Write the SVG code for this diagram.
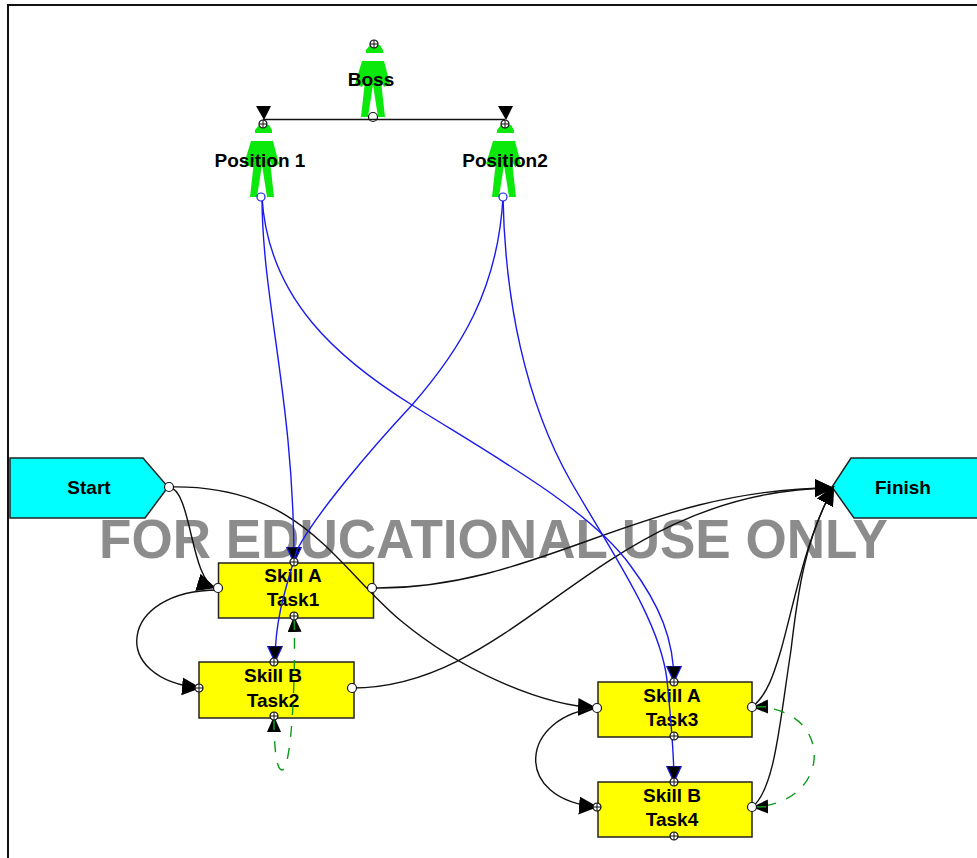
<svg xmlns="http://www.w3.org/2000/svg" width="977" height="858" viewBox="0 0 977 858">
<style>
text{font-family:"Liberation Sans",Arial,sans-serif;font-weight:bold;font-size:19px;fill:#000;text-anchor:middle}
.wm{font-size:56px;fill:#8c8c8c;text-anchor:start}
.box{fill:#ff0;stroke:#222;stroke-width:1.5}
.term{fill:#0ff;stroke:#222;stroke-width:1.5}
.c{fill:none;stroke:#111;stroke-width:1.4}
.b{fill:none;stroke:#1a1aee;stroke-width:1.4}
.g{fill:none;stroke:#0a9a1a;stroke-width:1.4;stroke-dasharray:11 11}
.p{fill:#fff;stroke:#111;stroke-width:1.2}
.x{fill:none;stroke:#111;stroke-width:1}
.pb{fill:#fff;stroke:#1a1aee;stroke-width:1.2}
</style>
<defs>
<marker id="ak" markerUnits="userSpaceOnUse" markerWidth="22" markerHeight="20" refX="19" refY="9" orient="auto"><path d="M0,0L19,9L0,18Z" fill="#000"/></marker>
<marker id="ab" markerUnits="userSpaceOnUse" markerWidth="20" markerHeight="16" refX="16" refY="7.500" orient="auto"><path d="M0,0L16,7.500L0,15Z" fill="#000" stroke="#1a1aee" stroke-width="1.200"/></marker>
<marker id="ag" markerUnits="userSpaceOnUse" markerWidth="20" markerHeight="16" refX="16" refY="7" orient="auto-start-reverse"><path d="M0,0L16,7L0,14Z" fill="#000"/><path d="M2,7H16" stroke="#0a9a1a" stroke-width="1.500"/></marker>
<g id="fig"><path fill="#0be80b" d="M-3,0H7L10,5V8H-7V5ZM-11,16H11L17,39L11,42L8,36L12,72H5L0,40L-5,72H-12L-8,36L-11,42L-18,39Z"/></g>
<g id="xp"><circle r="4" class="p"/><path class="x" d="M-4,0H4M0,-4V4"/></g>
<circle id="op" r="4.500" class="p"/>
</defs>
<path d="M8,858V5H977" fill="none" stroke="#111" stroke-width="2"/>
<text class="wm" x="99" y="558" textLength="789" lengthAdjust="spacingAndGlyphs">FOR EDUCATIONAL USE ONLY</text>
<g id="node-boss"><use href="#fig" x="373" y="45"/><use href="#xp" x="374" y="44"/><text x="371" y="86">Boss</text><use href="#op" x="373" y="117"/></g>
<g id="node-position1"><use href="#fig" x="262" y="125"/><use href="#xp" x="263" y="124"/><text x="260" y="167">Position 1</text></g>
<g id="node-position2"><use href="#fig" x="504" y="125"/><use href="#xp" x="505" y="124"/><text x="505" y="167">Position2</text></g>
<g id="node-start"><path class="term" d="M10,458H143L168,487L145,518H10Z"/><text x="89" y="494">Start</text></g>
<g id="node-finish"><path class="term" d="M851,458H979V518H854L832,487Z"/><text x="903" y="494">Finish</text></g>
<g id="node-task1"><rect class="box" x="218.500" y="563" width="155" height="55"/><text x="293" y="582">Skill A</text><text x="293" y="606">Task1</text></g>
<g id="node-task2"><rect class="box" x="199" y="662" width="155" height="56"/><text x="273" y="682">Skill B</text><text x="273" y="707">Task2</text></g>
<g id="node-task3"><rect class="box" x="598" y="682" width="154" height="55"/><text x="672" y="702">Skill A</text><text x="672" y="726">Task3</text></g>
<g id="node-task4"><rect class="box" x="598" y="782" width="154" height="55"/><text x="672" y="802">Skill B</text><text x="672" y="826">Task4</text></g>
<g id="connectors">
<path class="c" d="M263,119.500H505"/>
<path d="M256,106H271L264,120ZM498,106H513L506,120Z" fill="#000"/>
<path class="c" marker-end="url(#ak)" d="M169,487C192,490 190,580 216,588"/>
<path class="c" marker-end="url(#ak)" d="M169,487C300,484 335,565 400,620C460,670 540,705 597,708"/>
<path class="c" marker-end="url(#ak)" d="M373,588C540,590 640,488 834,488"/>
<path class="c" marker-end="url(#ak)" d="M352,688C520,688 600,490 834,488"/>
<path class="c" marker-end="url(#ak)" d="M752,707C768,695 775,670 781,650C795,600 805,540 834,486"/>
<path class="c" marker-end="url(#ak)" d="M752,807C775,790 780,720 791,650C798,590 805,540 834,486"/>
<path class="c" marker-end="url(#ak)" d="M218,590C118,590 108,680 201,688"/>
<path class="c" marker-end="url(#ak)" d="M598,708C520,715 510,800 598,807"/>
<path class="g" marker-start="url(#ag)" marker-end="url(#ag)" d="M294,616C296,670 292,770 282,770C276,770 274,745 274,716"/>
<path class="g" marker-start="url(#ag)" marker-end="url(#ag)" d="M752,707C835,705 835,805 752,807"/>
<path class="b" marker-end="url(#ab)" d="M262,197C262,300 294,400 294,563"/>
<path class="b" marker-end="url(#ab)" d="M262,197C268,300 340,360 412,405C500,460 590,510 630,565C660,605 674,640 674,682"/>
<path class="b" marker-end="url(#ab)" d="M503,197C498,290 460,350 412,405C370,450 315,515 297,550C285,590 275,620 275,662"/>
<path class="b" marker-end="url(#ab)" d="M503,197C505,300 525,400 570,480C610,550 660,620 667,680C671,720 674,750 674,782"/>
<use href="#op" x="169" y="487"/>
<use href="#op" x="218" y="588"/><use href="#op" x="372" y="588"/><use href="#xp" x="294" y="562"/><use href="#xp" x="294" y="616"/>
<use href="#xp" x="199" y="688"/><use href="#op" x="352" y="688"/><use href="#xp" x="274" y="662"/><use href="#xp" x="274" y="716"/>
<use href="#op" x="597" y="708"/><use href="#op" x="752" y="707"/><use href="#xp" x="674" y="682"/><use href="#xp" x="674" y="736"/>
<use href="#xp" x="597" y="807"/><use href="#op" x="752" y="807"/><use href="#xp" x="674" y="782"/><use href="#xp" x="674" y="836"/>
<circle class="pb" cx="261" cy="197" r="4"/><circle class="pb" cx="503" cy="197" r="4"/>
</g>
</svg>
